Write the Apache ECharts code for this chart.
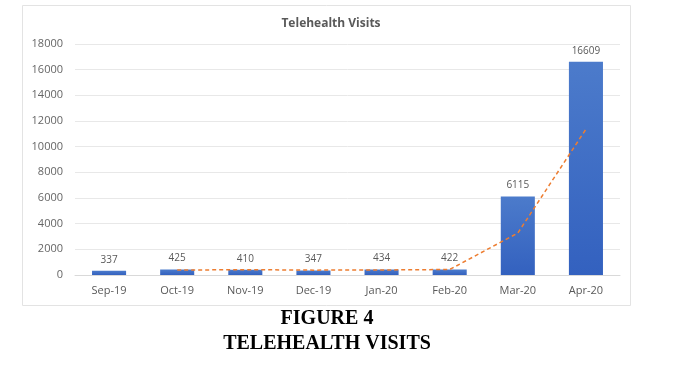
<!DOCTYPE html>
<html><head><meta charset="utf-8">
<script src="https://cdn.jsdelivr.net/npm/echarts@6/dist/echarts.min.js"></script>
<style>html,body{margin:0;padding:0;background:#fff}#c{width:676px;height:366px}</style>
</head><body><div id="c"></div>
<script>
var categories = ['Sep-19','Oct-19','Nov-19','Dec-19','Jan-20','Feb-20','Mar-20','Apr-20'];
var visits = [337, 425, 410, 347, 434, 422, 6115, 16609];
var trend = [null, 381, 418, 379, 391, 428, 3269, 11362];
var yTicks = {min: 0, max: 18000, interval: 2000};

var chart = echarts.init(document.getElementById('c'));
chart.setOption({
  backgroundColor: '#fff',
  animation: false,
  graphic: [
    {type: 'rect', shape: {x: 22.5, y: 5.5, width: 608, height: 300}, style: {fill: 'none', stroke: '#e3e3e3', lineWidth: 1}, z: -1},
    {type: 'text', x: 327, y: 319, style: {text: 'FIGURE 4', font: 'bold 20px "Liberation Serif", "Times New Roman", serif', fill: '#000', textAlign: 'center', textVerticalAlign: 'middle'}},
    {type: 'text', x: 327, y: 344, style: {text: 'TELEHEALTH VISITS', font: 'bold 20px "Liberation Serif", "Times New Roman", serif', fill: '#000', textAlign: 'center', textVerticalAlign: 'middle'}}
  ],
  title: {
    text: 'Telehealth Visits', left: 326, top: 13, textAlign: 'center',
    textStyle: {fontFamily: 'Open Sans, sans-serif', fontSize: 12, fontWeight: 'bold', color: '#595959'}
  },
  grid: {left: 75, right: 56, top: 44, bottom: 91},
  xAxis: {
    type: 'category', data: categories,
    axisLine: {lineStyle: {color: '#d9d9d9'}},
    axisTick: {show: false},
    axisLabel: {color: '#595959', fontSize: 11, fontFamily: 'Open Sans, sans-serif', margin: 10}
  },
  yAxis: {
    type: 'value', min: yTicks.min, max: yTicks.max, interval: yTicks.interval,
    axisLine: {show: false}, axisTick: {show: false},
    splitLine: {lineStyle: {color: '#e8e8e8'}},
    axisLabel: {color: '#666', fontSize: 11, fontFamily: 'Open Sans, sans-serif', margin: 12, formatter: function (v) { return String(v); }}
  },
  series: [
    {
      type: 'bar', data: visits, barWidth: '50%',
      itemStyle: {color: new echarts.graphic.LinearGradient(0,0,0,1,[{offset:0,color:'#4c7bcb'},{offset:1,color:'#3361bf'}])},
      label: {show: true, position: 'top', color: '#595959', fontSize: 10, fontFamily: 'Open Sans, sans-serif', distance: 6}
    },
    {
      type: 'line', data: trend, symbol: 'none', connectNulls: false,
      lineStyle: {color: '#ED7D31', width: 1.5, type: [4, 3]}, z: 5
    }
  ]
});
</script></body></html>
